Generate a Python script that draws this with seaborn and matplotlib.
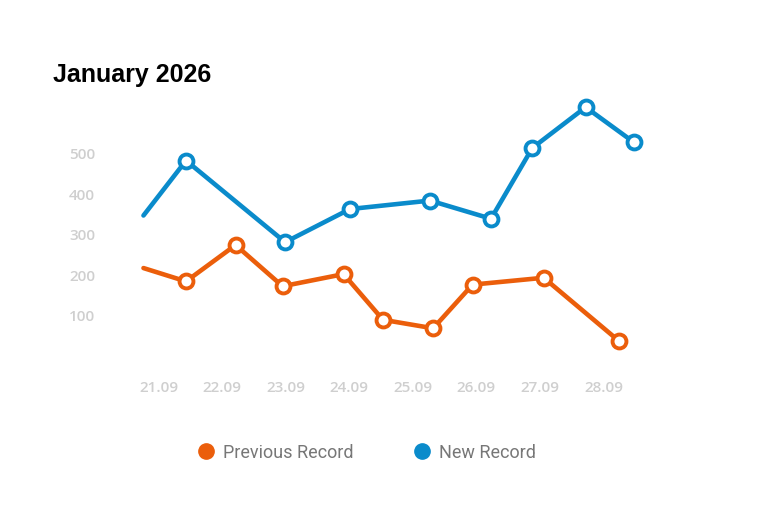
import matplotlib
matplotlib.use("Agg")
import matplotlib.pyplot as plt
from matplotlib.lines import Line2D
import seaborn as sns
import pandas as pd

# ---- data ----
tick_labels = ["21.09", "22.09", "23.09", "24.09", "25.09", "26.09", "27.09", "28.09"]
prev_x = [-0.24, 0.43, 1.21, 1.95, 2.91, 3.53, 4.32, 4.94, 6.06, 7.24]
prev_y = [215, 182, 272, 170, 200, 87, 66, 174, 191, 35]
new_x = [-0.24, 0.43, 1.99, 3.01, 4.27, 5.23, 5.88, 6.72, 7.48]
new_y = [345, 481, 279, 361, 382, 337, 512, 613, 526]
yticks = [100, 200, 300, 400, 500]
series_names = ["Previous Record", "New Record"]
colors = {"Previous Record": "#EB5E0B", "New Record": "#0A8BCB"}

df = pd.concat([
    pd.DataFrame({"day": prev_x, "value": prev_y, "series": series_names[0]}),
    pd.DataFrame({"day": new_x, "value": new_y, "series": series_names[1]}),
], ignore_index=True)

sns.set_style("white")
W, H = 760, 510
fig = plt.figure(figsize=(W / 100, H / 100), dpi=100)
# axes box in pixels: left 130, right 660, top 90, bottom 360
ax = fig.add_axes([130 / W, 1 - 360 / H, 530 / W, 270 / H])

sns.lineplot(data=df, x="day", y="value", hue="series", palette=colors,
             hue_order=series_names, linewidth=3.3, marker="o", markersize=10,
             markerfacecolor="white", markeredgewidth=2.8,
             markevery=slice(1, None), legend=False, ax=ax, sort=True)
for ln in ax.get_lines():
    ln.set_markeredgecolor(ln.get_color())

ax.set_xlim(-0.452, 7.89)
ax.set_ylim(-10, 658)
ax.set_xticks(range(len(tick_labels)))
ax.set_xticklabels(tick_labels)
ax.set_yticks(yticks)
ax.set_yticklabels([str(v) for v in yticks])
ax.set_xlabel("")
ax.set_ylabel("")
for s in ax.spines.values():
    s.set_visible(False)
ax.grid(False)
ax.tick_params(axis="both", length=0, colors="#CFCFCF", labelsize=11)
ax.tick_params(axis="y", pad=25)
ax.tick_params(axis="x", pad=15)
for t in ax.get_xticklabels() + ax.get_yticklabels():
    t.set_fontfamily("Open Sans")
    t.set_fontweight("semibold")

fig.text(53 / W, 1 - 75 / H, "January 2026", fontsize=18, fontweight="bold",
         family="Liberation Sans", color="black", va="center", ha="left")

handles = [Line2D([], [], linestyle="none", marker="o", markersize=11,
                  markerfacecolor=colors[n], markeredgecolor=colors[n]) for n in series_names]
fig.legend(handles, series_names, loc="center", bbox_to_anchor=(366.5 / W, 1 - 453 / H),
           ncol=2, frameon=False, handlelength=1.0, handletextpad=0.45,
           columnspacing=3.28, borderpad=0,
           prop={"family": "Roboto", "size": 13}, labelcolor="#777777")

fig.savefig("out.png", dpi=100, facecolor="white")
